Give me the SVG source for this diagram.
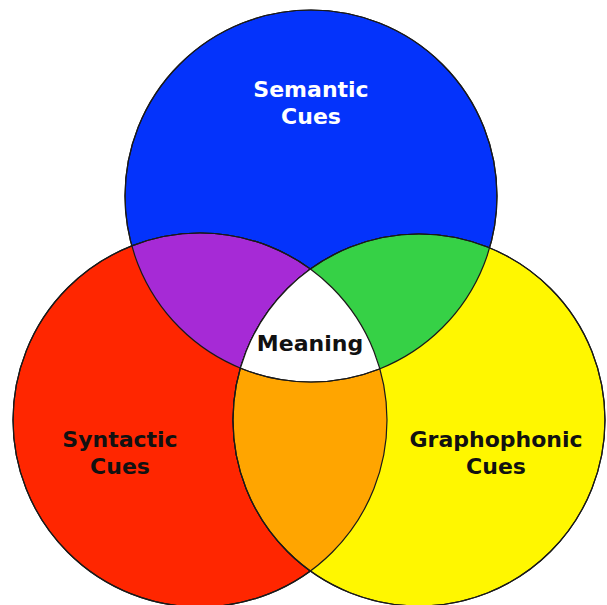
<svg xmlns="http://www.w3.org/2000/svg" width="607" height="605" viewBox="0 0 607 605">
<style>
.c{stroke:#1a1a1a;stroke-width:1.2}
.t{font-family:"DejaVu Sans",Verdana,sans-serif;font-weight:bold;font-size:22px;text-anchor:middle;fill:#111}
</style>
<defs>
<clipPath id="cb"><circle cx="311" cy="196" r="186"/></clipPath>
<clipPath id="cr"><circle cx="200" cy="420" r="187"/></clipPath>
<clipPath id="cy"><circle cx="419" cy="420" r="186"/></clipPath>
</defs>
<rect width="607" height="605" fill="#fff"/>
<g id="semantic"><circle class="c" cx="311" cy="196" r="186" fill="#0433fb"/></g>
<g id="syntactic"><circle class="c" cx="200" cy="420" r="187" fill="#ff2600"/></g>
<g id="graphophonic"><circle class="c" cx="419" cy="420" r="186" fill="#fff700"/></g>
<g id="overlaps">
<g clip-path="url(#cb)"><circle class="c" cx="200" cy="420" r="187" fill="#a62ad6"/></g>
<g clip-path="url(#cb)"><circle class="c" cx="419" cy="420" r="186" fill="#36d146"/></g>
<g clip-path="url(#cr)"><circle class="c" cx="419" cy="420" r="186" fill="#ffa500"/></g>
<g clip-path="url(#cr)"><g clip-path="url(#cy)"><circle class="c" cx="311" cy="196" r="186" fill="#fff"/></g></g>
</g>
<g id="outlines" fill="none">
<circle class="c" cx="311" cy="196" r="186"/>
<circle class="c" cx="200" cy="420" r="187"/>
<circle class="c" cx="419" cy="420" r="186"/>
</g>
<g id="labels">
<text class="t" x="311" y="97" style="fill:#fff">Semantic</text>
<text class="t" x="311" y="124" style="fill:#fff">Cues</text>
<text class="t" x="120" y="447">Syntactic</text>
<text class="t" x="120" y="474">Cues</text>
<text class="t" x="496" y="447">Graphophonic</text>
<text class="t" x="496" y="474">Cues</text>
<text class="t" x="310" y="351">Meaning</text>
</g>
</svg>
